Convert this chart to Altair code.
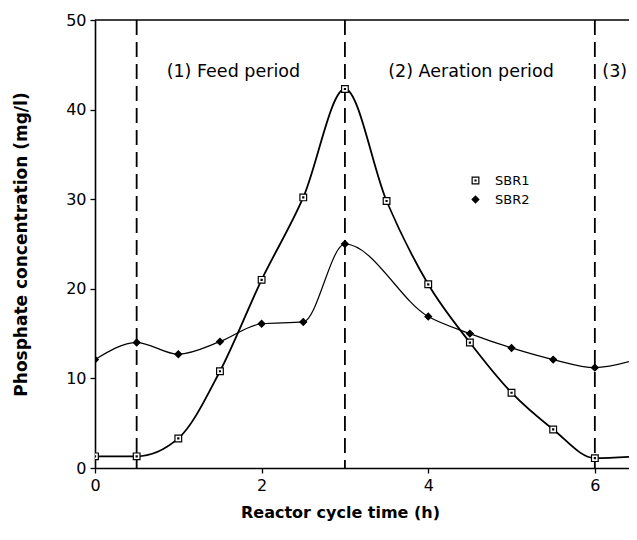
import altair as alt
import pandas as pd

times = [0, 0.5, 1, 1.5, 2, 2.5, 3, 3.5, 4, 4.5, 5, 5.5, 6, 6.5]
sbr1 = [1.3, 1.3, 3.3, 10.8, 21.0, 30.2, 42.3, 29.8, 20.5, 14.0, 8.4, 4.3, 1.1, 1.3]
sbr2_times = [0, 0.5, 1, 1.5, 2, 2.5, 3, 4, 4.5, 5, 5.5, 6, 6.5]
sbr2 = [12.1, 14.0, 12.7, 14.1, 16.1, 16.3, 25.0, 16.9, 15.0, 13.4, 12.1, 11.2, 12.1]
period_bounds = [0.5, 3, 6]
period_labels = ["(1) Feed period", "(2) Aeration period", "(3)"]
label_x = [0.86, 3.52, 6.09]
label_y = [44.2, 44.2, 44.2]

df = pd.concat([
    pd.DataFrame({"t": times, "c": sbr1, "s": "SBR1"}),
    pd.DataFrame({"t": sbr2_times, "c": sbr2, "s": "SBR2"}),
])

FONT = "DejaVu Sans"
xs = alt.Scale(domain=[0, 6.41], nice=False, zero=False)
ys = alt.Scale(domain=[0, 50], nice=False)

sq = "M-1,-1H1V1H-1Z M-0.15,-0.15H0.15V0.15H-0.15Z"

x_enc = alt.X("t:Q", scale=xs, title="Reactor cycle time (h)",
              axis=alt.Axis(values=[0, 2, 4, 6], format="d", grid=False, tickSize=5, labelFlush=False,
                            labelPadding=4, titlePadding=11, titleX=245, titleFontSize=16))
y_enc = alt.Y("c:Q", scale=ys, title="Phosphate concentration (mg/l)",
              axis=alt.Axis(values=[0, 10, 20, 30, 40, 50], grid=False, tickSize=5,
                            labelPadding=4, titlePadding=35, titleFontSize=17))

lines1 = alt.Chart(df[df.s == "SBR1"]).mark_line(
    interpolate="monotone", color="black", strokeWidth=1.8, clip=True
).encode(x=x_enc, y=y_enc)
lines2 = alt.Chart(df[df.s == "SBR2"]).mark_line(
    interpolate="monotone", color="black", strokeWidth=1.2, clip=True
).encode(x=x_enc, y=y_enc)

leg = dict(title=None, orient="none", legendX=374, legendY=154,
           labelFont=FONT, labelFontSize=13, labelColor="black",
           rowPadding=5, symbolSize=45, labelOffset=13, symbolStrokeWidth=1.2)
dom = ["SBR1", "SBR2"]
points = alt.Chart(df).mark_point(size=45, strokeWidth=1.2, opacity=1, clip=True).encode(
    x=x_enc, y=y_enc,
    shape=alt.Shape("s:N", scale=alt.Scale(domain=dom, range=[sq, "diamond"]), legend=alt.Legend(**leg)),
    fill=alt.Fill("s:N", scale=alt.Scale(domain=dom, range=["white", "black"]), legend=alt.Legend(**leg)),
    stroke=alt.Stroke("s:N", scale=alt.Scale(domain=dom, range=["black", "black"]), legend=alt.Legend(**leg)),
)

rules = alt.Chart(pd.DataFrame({"t": period_bounds})).mark_rule(
    color="black", strokeWidth=1.8, strokeDash=[15, 7]
).encode(x=alt.X("t:Q", scale=xs))

top = alt.Chart(pd.DataFrame({"c": [50]})).mark_rule(color="black", strokeWidth=1.5).encode(
    y=alt.Y("c:Q", scale=ys))

labels = alt.Chart(pd.DataFrame({"t": label_x, "c": label_y, "txt": period_labels})).mark_text(
    align="left", baseline="middle", font=FONT, fontSize=17.5, color="black"
).encode(x=alt.X("t:Q", scale=xs), y=alt.Y("c:Q", scale=ys), text="txt:N")

chart = alt.layer(rules, top, lines1, lines2, points, labels).properties(
    width=534, height=448,
    autosize=alt.AutoSizeParams(type="none"),
    padding={"left": 87, "top": 12, "right": 0, "bottom": 60},
).configure_view(stroke=None).configure_axis(
    domainColor="black", domainWidth=1.6, tickColor="black", tickWidth=1.3,
    labelFont=FONT, labelFontSize=16, labelColor="black",
    titleFont=FONT, titleFontWeight="bold", titleColor="black",
)

chart.save("out.html", embed_options={"renderer": "svg", "actions": False})
